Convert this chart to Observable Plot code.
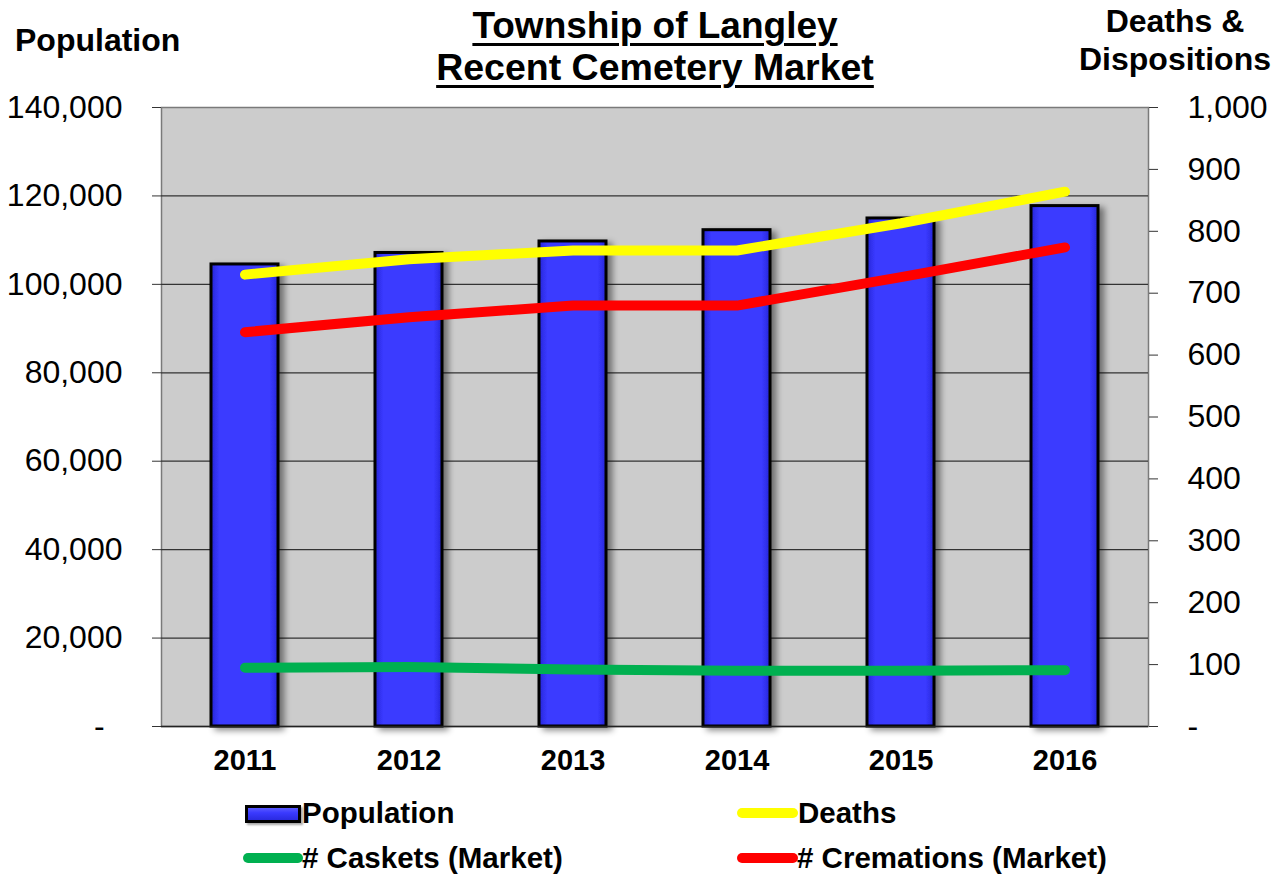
<!DOCTYPE html>
<html><head><meta charset="utf-8">
<script src="https://cdn.jsdelivr.net/npm/d3@7"></script>
<script src="https://cdn.jsdelivr.net/npm/@observablehq/plot@0.6"></script>
<style>
body{margin:0;background:#fff;font-family:"Liberation Sans",Arial,sans-serif;}
#wrap{position:relative;width:1284px;height:877px;overflow:hidden}
#wrap svg{position:absolute;left:0;top:0}
.t{position:absolute;font-weight:bold;color:#000;white-space:nowrap;line-height:1.15}
.u{text-decoration:underline;text-decoration-thickness:3px;text-underline-offset:5px}
.sw{position:absolute;box-sizing:border-box}
</style></head><body><div id="wrap"></div>
<script>
const years = ["2011", "2012", "2013", "2014", "2015", "2016"];
const population = [104500, 107100, 109700, 112250, 114900, 117700];
const deaths = [730, 755, 769, 769, 813, 864];
const cremations = [637, 661, 680, 680, 726, 774];
const caskets = [95, 96, 92, 90, 90, 91];
const leftTicks = [0, 20000, 40000, 60000, 80000, 100000, 120000, 140000];
const rightTicks = [0, 100, 200, 300, 400, 500, 600, 700, 800, 900, 1000];
const RATIO = 140; // 1,000 on the right axis = 140,000 on the left axis

const data = years.map((year, i) => ({
  year, population: population[i], deaths: deaths[i],
  cremations: cremations[i], caskets: caskets[i]
}));

const fmt = d3.format(",");
const plot = Plot.plot({
  width: 1284, height: 877,
  marginTop: 107, marginBottom: 151, marginLeft: 161, marginRight: 136,
  style: {background: "transparent", fontFamily: "Liberation Sans, Arial, sans-serif", color: "#000", overflow: "visible"},
  x: {domain: years, paddingInner: 0.594, paddingOuter: 0.288, label: null},
  y: {domain: [0, 140000], label: null},
  marks: [
    Plot.frame({fill: "#cccccc", stroke: "#7a7a7a", strokeWidth: 1.5}),
    Plot.ruleY(leftTicks.slice(1, -1), {stroke: "#333", strokeWidth: 1.2}),
    Plot.axisY({ticks: leftTicks, tickSize: 9, tickPadding: 30, fontSize: 32,
      tickFormat: d => d === 0 ? "-\u00a0\u00a0" : fmt(d), label: null, stroke: "#333"}),
    Plot.axisY({anchor: "right", ticks: rightTicks.map(d => d * RATIO), tickSize: 9, tickPadding: 30, fontSize: 32,
      tickFormat: d => d === 0 ? "-" : fmt(Math.round(d / RATIO)), label: null, stroke: "#333"}),
    Plot.axisX({tickSize: 0, tickPadding: 23, fontSize: 29, fontWeight: "bold", label: null}),
    Plot.barY(data, {x: "year", y: "population", fill: "url(#barGrad)", stroke: "#000", strokeWidth: 3}),
    Plot.ruleY([0], {stroke: "#222", strokeWidth: 1.5}),
    Plot.lineY(data, {x: "year", y: d => d.caskets * RATIO, stroke: "#00b050", strokeWidth: 10, strokeLinecap: "round", strokeLinejoin: "round"}),
    Plot.lineY(data, {x: "year", y: d => d.cremations * RATIO, stroke: "#ff0000", strokeWidth: 10, strokeLinecap: "round", strokeLinejoin: "round"}),
    Plot.lineY(data, {x: "year", y: d => d.deaths * RATIO, stroke: "#ffff00", strokeWidth: 10, strokeLinecap: "round", strokeLinejoin: "round"})
  ]
});

const ns = "http://www.w3.org/2000/svg";
const defs = document.createElementNS(ns, "defs");
defs.innerHTML = `
<linearGradient id="barGrad" x1="0" x2="1" y1="0" y2="0">
  <stop offset="0" stop-color="#2626d8"/>
  <stop offset="0.12" stop-color="#3a3aff"/>
  <stop offset="0.88" stop-color="#3a3aff"/>
  <stop offset="1" stop-color="#2626d8"/>
</linearGradient>
<filter id="shadow" x="-20%" y="-5%" width="150%" height="115%">
  <feDropShadow dx="5" dy="3" stdDeviation="3" flood-color="#000" flood-opacity="0.45"/>
</filter>`;
plot.insertBefore(defs, plot.firstChild);
const barG = plot.querySelector('g[aria-label="bar"]');
if (barG) barG.setAttribute("filter", "url(#shadow)");

const wrap = document.getElementById("wrap");
wrap.appendChild(plot);

function txt(s, left, top, size, extra = "", cls = "t") {
  const d = document.createElement("div");
  d.className = cls;
  d.style.cssText = `left:${left}px;top:${top}px;font-size:${size}px;${extra}`;
  d.textContent = s;
  wrap.appendChild(d);
  return d;
}
// titles
txt("Township of Langley", 0, 5, 37, "width:1310px;text-align:center", "t u");
txt("Recent Cemetery Market", 0, 46, 37.5, "width:1310px;text-align:center", "t u");
txt("Population", 15, 22, 32);
txt("Deaths &", 1075, 3, 32, "width:200px;text-align:center");
txt("Dispositions", 1075, 41, 32, "width:200px;text-align:center");

// legend
function sw(left, top, w, h, css) {
  const d = document.createElement("div");
  d.className = "sw";
  d.style.cssText = `left:${left}px;top:${top}px;width:${w}px;height:${h}px;${css}`;
  wrap.appendChild(d);
}
sw(245, 805, 56, 18, "border:3px solid #000;background:linear-gradient(#5a5aff,#3a3aff 40%,#2a2ae0);box-shadow:2px 2px 2px rgba(0,0,0,0.35)");
txt("Population", 302, 796, 29.5);
sw(737, 808, 61, 10, "background:#ffff00;border-radius:5px");
txt("Deaths", 798, 796, 29.5);
sw(243, 853, 60, 10, "background:#00b050;border-radius:5px");
txt("# Caskets (Market)", 302, 841, 29.5);
sw(737, 853, 61, 10, "background:#ff0000;border-radius:5px");
txt("# Cremations (Market)", 797, 841, 29.5);
</script></body></html>
